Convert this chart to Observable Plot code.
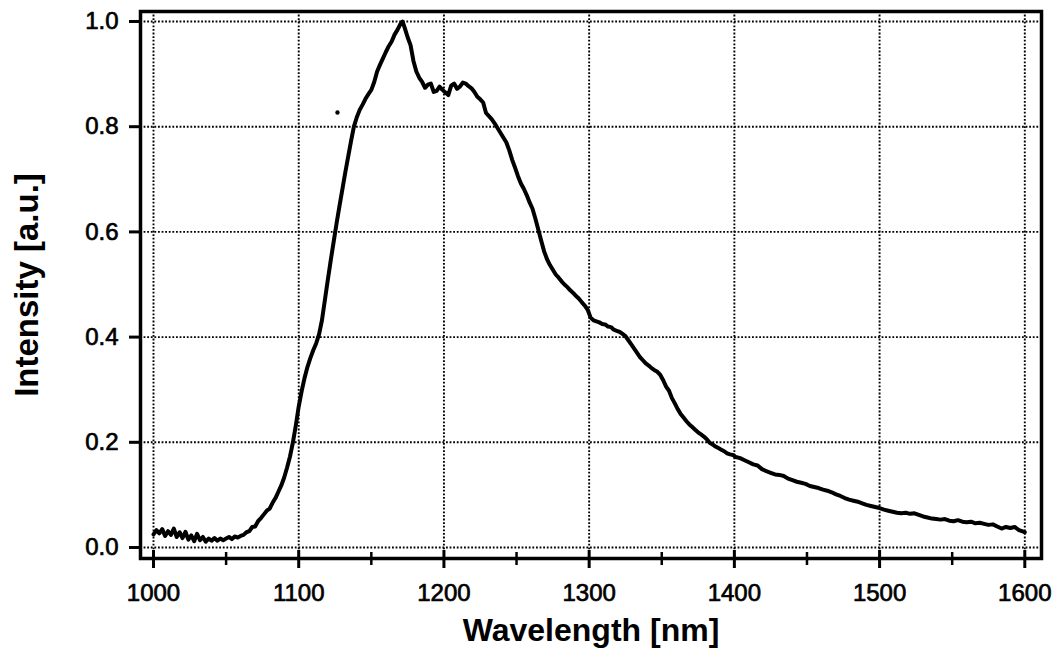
<!DOCTYPE html>
<html><head><meta charset="utf-8">
<script src="https://cdn.jsdelivr.net/npm/d3@7"></script>
<script src="https://cdn.jsdelivr.net/npm/@observablehq/plot@0.6"></script>
<style>html,body{margin:0;padding:0;background:#fff;}</style>
</head><body><div id="chart"></div>
<script>
const wavelength = [
1000,1002,1004,1006,1008,1010,1012,1014,1016,1018,1020,1022,1024,1026,1028,1030,1032,1034,1036,1038,
1040,1042,1044,1046,1048,1050,1052,1054,1056,1058,1060,1062,1064,1066,1068,1070,1072,1074,1076,1078,
1080,1082,1084,1086,1088,1090,1092,1094,1096,1098,1100,1102,1104,1106,1108,1110,1112,1114,1116,1118,
1120,1122,1124,1126,1128,1130,1132,1134,1136,1138,1140,1142,1144,1146,1148,1150,1152,1154,1156,1158,
1160,1162,1164,1166,1168,1170,1171.5,1173,1175,1177,1179,1181,1183,1185,1187,1189,1191,1193,1195,1197,
1199,1201,1203,1205,1207,1209,1211,1213,1215,1217,1219,1221,1223,1225,1227,1229,1231,1233,1235,1237,
1239,1241,1243,1245,1247,1249,1251,1253,1255,1257,1259,1261,1263,1265,1267,1269,1271,1273,1275,1277,
1279,1281,1283,1285,1287,1289,1291,1293,1295,1297,1299,1301,1303,1305,1307,1309,1311,1313,1315,1317,
1319,1321,1323,1325,1327,1329,1331,1333,1335,1337,1339,1341,1343,1345,1347,1349,1351,1353,1355,1357,
1359,1361,1363,1365,1367,1369,1371,1373,1375,1377,1379,1381,1383,1385,1387,1389,1391,1393,1395,1397,
1399,1401,1404,1407,1410,1413,1416,1419,1422,1425,1428,1431,1434,1437,1440,1443,1446,1449,1452,1455,
1458,1461,1464,1467,1470,1473,1476,1479,1482,1485,1488,1491,1494,1497,1500,1503,1506,1509,1512,1515,
1518,1521,1524,1527,1530,1533,1536,1539,1542,1545,1548,1551,1554,1557,1560,1563,1566,1569,1572,1575,
1578,1581,1584,1587,1590,1593,1596,1599,1600];
const intensity = [
.025,.033,.027,.035,.022,.031,.024,.036,.020,.029,.018,.030,.015,.023,.012,.026,.014,.020,.011,.017,
.013,.018,.013,.017,.014,.017,.020,.016,.021,.019,.022,.024,.029,.031,.039,.040,.050,.056,.063,.070,
.074,.085,.094,.106,.118,.133,.152,.173,.200,.232,.268,.297,.322,.343,.360,.375,.388,.405,.432,.470,
.508,.545,.580,.615,.648,.680,.712,.742,.772,.800,.818,.832,.842,.853,.862,.870,.885,.905,.918,.930,
.942,.953,.962,.975,.984,.995,1.0,.988,.970,.955,.925,.905,.893,.885,.874,.880,.882,.866,.868,.876,
.870,.865,.860,.878,.882,.872,.876,.884,.882,.877,.873,.866,.857,.852,.846,.826,.820,.814,.806,.797,
.788,.779,.770,.755,.737,.722,.706,.692,.682,.670,.656,.644,.625,.604,.583,.563,.548,.537,.528,.519,
.513,.506,.500,.495,.489,.484,.478,.473,.466,.460,.452,.437,.432,.430,.428,.425,.424,.420,.419,.414,
.412,.410,.406,.402,.394,.386,.378,.370,.362,.356,.350,.346,.341,.337,.334,.328,.318,.306,.298,.284,
.274,.263,.254,.247,.240,.234,.229,.224,.219,.215,.211,.206,.199,.196,.192,.189,.186,.183,.179,.177,
.176,.172,.170,.166,.162,.158,.156,.149,.145,.142,.139,.138,.136,.131,.128,.125,.123,.121,.117,.115,
.113,.110,.108,.105,.101,.098,.094,.091,.089,.087,.084,.081,.079,.077,.075,.072,.070,.068,.066,.065,
.066,.064,.065,.062,.059,.057,.055,.054,.053,.054,.051,.050,.052,.049,.048,.049,.046,.047,.045,.043,
.044,.040,.036,.039,.037,.039,.033,.030,.029];
const xMajorTicks = [1000,1100,1200,1300,1400,1500,1600];
const xMinorTicks = [1050,1150,1250,1350,1450,1550];
const yTicks = [0,0.2,0.4,0.6,0.8,1.0];
const xLabel = "Wavelength [nm]";
const yLabel = "Intensity [a.u.]";
const speckWavelength = [1126.7];
const speckIntensity = [0.827];

const data = wavelength.map((w, i) => ({w, v: intensity[i]}));
const specks = speckWavelength.map((w, i) => ({w, v: speckIntensity[i]}));
const font = "'Liberation Sans', Arial, Helvetica, sans-serif";
const dotted = {stroke: "black", strokeOpacity: 1, strokeWidth: 1.9, strokeDasharray: "1.8,1.8"};
const heavyText = {textStroke: "black", textStrokeWidth: 0.7, textStrokeOpacity: 1};

const chart = Plot.plot({
  width: 1061, height: 651,
  marginLeft: 140, marginRight: 20, marginTop: 11, marginBottom: 93,
  x: {domain: [991.05, 1611.5]},
  y: {domain: [-0.0209, 1.019]},
  style: {fontFamily: font, fontSize: "24px", background: "white", color: "black"},
  marks: [
    Plot.gridX(xMajorTicks, dotted),
    Plot.gridY(yTicks, dotted),
    Plot.line(data, {x: "w", y: "v", stroke: "black", strokeWidth: 4, strokeLinejoin: "round", strokeLinecap: "round"}),
    Plot.dot(specks, {x: "w", y: "v", r: 2.2, fill: "black"}),
    Plot.frame({stroke: "black", strokeWidth: 3.5}),
    Plot.axisY(yTicks, {tickSize: 11, tickPadding: 11, tickFormat: d3.format(".1f"), fontSize: 24, strokeWidth: 3, label: null, ...heavyText}),
    Plot.axisX(xMajorTicks, {tickSize: 18, dy: -8, fill: "none", strokeWidth: 3, label: null}),
    Plot.axisX(xMinorTicks, {tickSize: 13, dy: -6, fill: "none", strokeWidth: 2.5, label: null}),
    Plot.axisX(xMajorTicks, {tickSize: 0, tickPadding: 25, stroke: "none", fontSize: 24, tickFormat: d => String(d), label: null, ...heavyText}),
    Plot.text([xLabel], {frameAnchor: "bottom", textAnchor: "middle", lineAnchor: "middle", dy: 72, fontSize: 32, fontWeight: "bold"}),
    Plot.text([yLabel], {frameAnchor: "left", textAnchor: "middle", lineAnchor: "middle", dx: -113.5, rotate: -90, fontSize: 33, fontWeight: "bold"})
  ]
});
document.getElementById("chart").appendChild(chart);
</script>
</body></html>
